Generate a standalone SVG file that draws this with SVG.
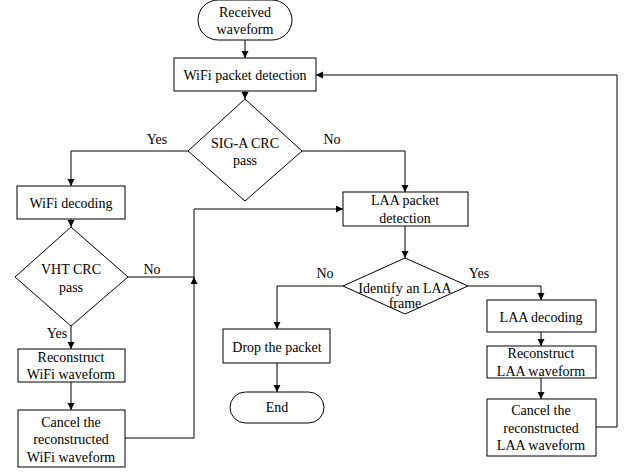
<svg xmlns="http://www.w3.org/2000/svg" width="628" height="472" viewBox="0 0 628 472">
<style>
.n{fill:#fff;stroke:#000;stroke-width:1}
.t{font-family:"Liberation Serif","Times New Roman",serif;font-size:14px;fill:#000;text-anchor:middle;dominant-baseline:central}
.c{fill:none;stroke:#000;stroke-width:1}
</style>
<defs>
<marker id="a" markerWidth="8" markerHeight="8" refX="7" refY="3.5" orient="auto" markerUnits="userSpaceOnUse">
<path d="M0,0 L7,3.5 L0,7 Z" fill="#000"/>
</marker>
</defs>
<rect width="628" height="472" fill="#fff"/>
<g id="connectors">
<path class="c" d="M245,40 V58" marker-end="url(#a)"/>
<path class="c" d="M245,91 V99" marker-end="url(#a)"/>
<path class="c" d="M188,151 H71 V186" marker-end="url(#a)"/>
<path class="c" d="M302,151 H405 V192" marker-end="url(#a)"/>
<path class="c" d="M71,219 V227" marker-end="url(#a)"/>
<path class="c" d="M128,277 H194"/>
<path class="c" d="M125,438 H194 V277" marker-end="url(#a)"/>
<path class="c" d="M194,277 V209 H343" marker-end="url(#a)"/>
<path class="c" d="M71,326 V349" marker-end="url(#a)"/>
<path class="c" d="M71,382 V410" marker-end="url(#a)"/>
<path class="c" d="M405,226 V258" marker-end="url(#a)"/>
<path class="c" d="M343,286 H277 V329" marker-end="url(#a)"/>
<path class="c" d="M277,363 V392" marker-end="url(#a)"/>
<path class="c" d="M468,286 H541 V300" marker-end="url(#a)"/>
<path class="c" d="M541,332 V346" marker-end="url(#a)"/>
<path class="c" d="M541,378 V399" marker-end="url(#a)"/>
<path class="c" d="M596,427 H617 V75 H316" marker-end="url(#a)"/>
<text class="t" x="157" y="139">Yes</text>
<text class="t" x="332" y="139">No</text>
<text class="t" x="152" y="269">No</text>
<text class="t" x="57" y="333">Yes</text>
<text class="t" x="325" y="273">No</text>
<text class="t" x="479" y="273">Yes</text>
</g>
<g id="received">
<rect class="n" x="198" y="0" width="94" height="40" rx="20" ry="20"/>
<text class="t" x="245" y="12">Received</text>
<text class="t" x="245" y="29">waveform</text>
</g>
<g id="wifi-detect">
<rect class="n" x="174" y="58" width="142" height="33"/>
<text class="t" x="245" y="75">WiFi packet detection</text>
</g>
<g id="siga">
<path class="n" d="M245,99 L302,151 L245,201 L188,151 Z"/>
<text class="t" x="245" y="143">SIG-A CRC</text>
<text class="t" x="245" y="160">pass</text>
</g>
<g id="wifi-decoding">
<rect class="n" x="17" y="186" width="108" height="33"/>
<text class="t" x="71" y="203">WiFi decoding</text>
</g>
<g id="vht">
<path class="n" d="M71,227 L128,277 L71,326 L15,277 Z"/>
<text class="t" x="71" y="269">VHT CRC</text>
<text class="t" x="71" y="287">pass</text>
</g>
<g id="reconstruct-wifi">
<rect class="n" x="18" y="349" width="107" height="33"/>
<text class="t" x="71" y="357">Reconstruct</text>
<text class="t" x="71" y="374">WiFi waveform</text>
</g>
<g id="cancel-wifi">
<rect class="n" x="18" y="410" width="107" height="57"/>
<text class="t" x="71" y="422">Cancel the</text>
<text class="t" x="71" y="439">reconstructed</text>
<text class="t" x="71" y="457">WiFi waveform</text>
</g>
<g id="laa-detect">
<rect class="n" x="343" y="192" width="125" height="34"/>
<text class="t" x="405" y="200">LAA packet</text>
<text class="t" x="405" y="218">detection</text>
</g>
<g id="identify">
<path class="n" d="M405,258 L468,286 L405,314 L343,286 Z"/>
<text class="t" x="405" y="288">Identify an LAA</text>
<text class="t" x="405" y="303">frame</text>
</g>
<g id="drop">
<rect class="n" x="223" y="329" width="107" height="34"/>
<text class="t" x="277" y="347">Drop the packet</text>
</g>
<g id="end">
<rect class="n" x="230" y="392" width="94" height="31" rx="15.5" ry="15.5"/>
<text class="t" x="277" y="407">End</text>
</g>
<g id="laa-decoding">
<rect class="n" x="487" y="300" width="109" height="32"/>
<text class="t" x="541" y="317">LAA decoding</text>
</g>
<g id="reconstruct-laa">
<rect class="n" x="487" y="346" width="109" height="32"/>
<text class="t" x="541" y="353">Reconstruct</text>
<text class="t" x="541" y="371">LAA waveform</text>
</g>
<g id="cancel-laa">
<rect class="n" x="487" y="399" width="109" height="57"/>
<text class="t" x="541" y="410">Cancel the</text>
<text class="t" x="541" y="428">reconstructed</text>
<text class="t" x="541" y="445">LAA waveform</text>
</g>
</svg>
